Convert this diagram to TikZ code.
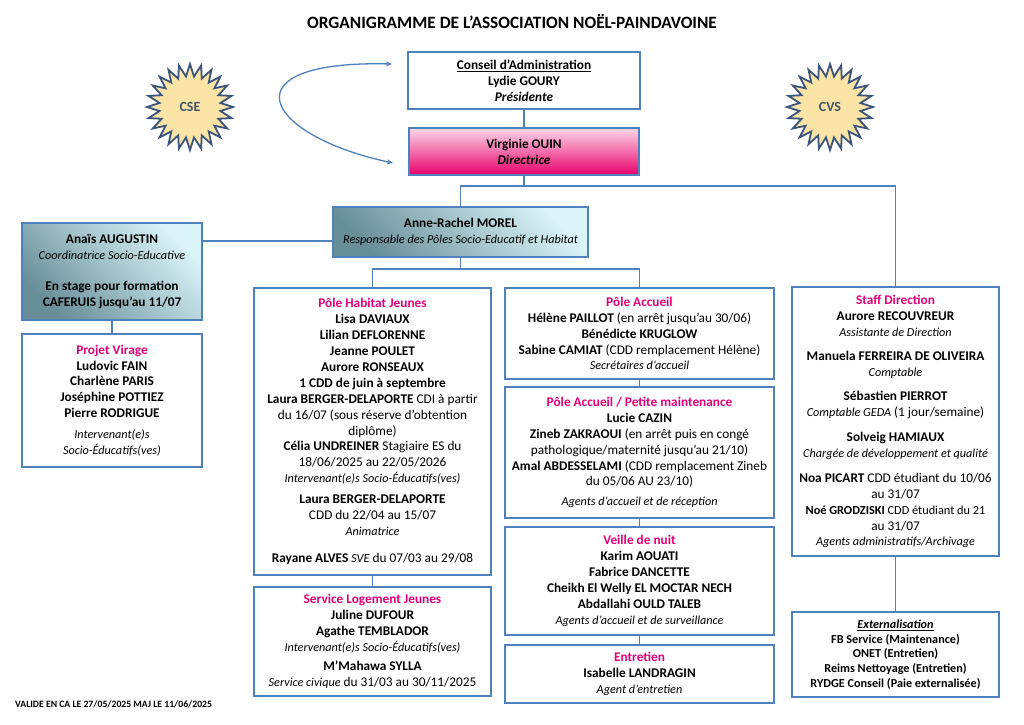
\documentclass[tikz,border=0pt]{standalone}
\usepackage{fontspec}
\setmainfont{Carlito}
\usepackage{tikz}
\usetikzlibrary{shapes.geometric}
\usetikzlibrary{arrows.meta}
\usepackage{xcolor}
\definecolor{ColBlue}{RGB}{79,129,189}
\definecolor{ColPink}{RGB}{226,0,122}
\definecolor{ColPinkL}{RGB}{252,216,234}
\definecolor{ColPinkD}{RGB}{233,0,106}
\definecolor{ColTealL}{RGB}{218,244,249}
\definecolor{ColTealD}{RGB}{104,142,152}
\definecolor{ColGold}{RGB}{252,228,166}
\definecolor{ColSlate}{RGB}{59,86,122}
\definecolor{ColSlateT}{RGB}{68,84,106}
\newcommand{\Plain}[1]{{\mdseries #1}}
\newcommand{\Role}[1]{{\mdseries\itshape\fontsize{12.2}{15.9}\selectfont #1}}
\newcommand{\Pole}[1]{\textcolor{ColPink}{#1}}
\tikzstyle{BoxOrg}=[rectangle,draw=ColBlue,line width=1.6pt,fill=white,inner sep=2pt,align=center,
font=\fontsize{13.3}{15.9}\selectfont\bfseries]
\tikzstyle{BoxTeal}=[BoxOrg,bottom color=ColTealD,top color=ColTealL,shading angle=-45]
\tikzstyle{BoxPink}=[BoxOrg,top color=ColPinkL,bottom color=ColPinkD]
\tikzstyle{EdgeOrg}=[ColBlue,line width=1.5pt]
\tikzstyle{ArcOrg}=[ColBlue,line width=1.3pt,{Stealth[length=6pt,width=5pt]}-{Stealth[length=6pt,width=5pt]}]
\tikzstyle{StarOrg}=[star,star points=24,star point ratio=1.4,minimum size=86pt,inner sep=0pt,
draw=ColSlate,line width=1.8pt,fill=ColGold,text=ColSlateT,font=\fontsize{14}{16}\selectfont\bfseries]

\begin{document}
\begin{tikzpicture}[x=1pt,y=-1pt]
        \useasboundingbox[fill=white](0,0)rectangle(1024,724);
        \node[font=\fontsize{17.3}{20}\selectfont\bfseries](t)at(512,22){ORGANIGRAMME DE L’ASSOCIATION NOËL-PAINDAVOINE};
        \node[StarOrg](cse)at(190,107){CSE};
        \node[StarOrg](cvs)at(830,107){CVS};
        \node[BoxOrg,minimum width=232pt,minimum height=57pt](ca)at(524,80.5){\underline{Conseil d’Administration}\\Lydie GOURY\\\textit{Présidente}};
        \node[BoxPink,minimum width=230pt,minimum height=47pt](dir)at(524,151.5){Virginie OUIN\\\textit{Directrice}};
        \node[BoxTeal,minimum width=255pt,minimum height=50pt](ar)at(460.5,232){Anne-Rachel MOREL\\\Role{Responsable des Pôles Socio-Educatif et Habitat}};
        \node[BoxTeal,minimum width=180pt,minimum height=97pt](ana)at(112,271.5){Anaïs AUGUSTIN\\\Role{Coordinatrice Socio-Educative}\\[15pt]
            En stage pour formation\\CAFERUIS jusqu’au 11/07};
        \node[BoxOrg,minimum width=180pt,minimum height=133pt](vir)at(112,400.5){\Pole{Projet Virage}\\Ludovic FAIN\\Charlène PARIS\\Joséphine POTTIEZ\\Pierre RODRIGUE\\[5pt]
            \Role{Intervenant(e)s}\\\Role{Socio-Éducatifs(ves)}};
        \node[BoxOrg,minimum width=237pt,minimum height=287pt](hab)at(372.5,431.5){\Pole{Pôle Habitat Jeunes}\\Lisa DAVIAUX\\Lilian DEFLORENNE\\Jeanne POULET\\Aurore RONSEAUX\\
            1 CDD de juin à septembre\\Laura BERGER-DELAPORTE \Plain{CDI à partir}\\\Plain{du 16/07 (sous réserve d’obtention}\\\Plain{diplôme)}\\
            Célia UNDREINER \Plain{Stagiaire ES du}\\\Plain{18/06/2025 au 22/05/2026}\\\Role{Intervenant(e)s Socio-Éducatifs(ves)}\\[5pt]
            Laura BERGER-DELAPORTE\\\Plain{CDD du 22/04 au 15/07}\\\Role{Animatrice}\\[11pt]
            Rayane ALVES \Role{SVE} \Plain{du 07/03 au 29/08}};
        \node[BoxOrg,minimum width=237pt,minimum height=109pt](slj)at(372.5,641.5){\Pole{Service Logement Jeunes}\\Juline DUFOUR\\Agathe TEMBLADOR\\
            \Role{Intervenant(e)s Socio-Éducatifs(ves)}\\[3pt]M’Mahawa SYLLA\\\Role{Service civique} \Plain{du 31/03 au 30/11/2025}};
        \node[BoxOrg,minimum width=269pt,minimum height=91pt](acc)at(639.5,333.5){\Pole{Pôle Accueil}\\Hélène PAILLOT \Plain{(en arrêt jusqu’au 30/06)}\\Bénédicte KRUGLOW\\
            Sabine CAMIAT \Plain{(CDD remplacement Hélène)}\\\Role{Secrétaires d’accueil}};
        \node[BoxOrg,minimum width=269pt,minimum height=131pt](pam)at(639.5,452.5){\Pole{Pôle Accueil / Petite maintenance}\\Lucie CAZIN\\
            Zineb ZAKRAOUI \Plain{(en arrêt puis en congé}\\\Plain{pathologique/maternité jusqu’au 21/10)}\\
            Amal ABDESSELAMI \Plain{(CDD remplacement Zineb}\\\Plain{du 05/06 AU 23/10)}\\[4pt]\Role{Agents d’accueil et de réception}};
        \node[BoxOrg,minimum width=269pt,minimum height=108pt](vdn)at(639.5,581){\Pole{Veille de nuit}\\Karim AOUATI\\Fabrice DANCETTE\\Cheikh El Welly EL MOCTAR NECH\\
            Abdallahi OULD TALEB\\\Role{Agents d’accueil et de surveillance}};
        \node[BoxOrg,minimum width=269pt,minimum height=58pt](ent)at(639.5,674){\Pole{Entretien}\\Isabelle LANDRAGIN\\\Role{Agent d’entretien}};
        \node[BoxOrg,minimum width=207pt,minimum height=269pt](staff)at(895.5,421.5){\Pole{Staff Direction}\\Aurore RECOUVREUR\\\Role{Assistante de Direction}\\[9pt]
            Manuela FERREIRA DE OLIVEIRA\\\Role{Comptable}\\[8pt]Sébastien PIERROT\\\Role{Comptable GEDA} \Plain{(1 jour/semaine)}\\[9pt]
            Solveig HAMIAUX\\\Role{Chargée de développement et qualité}\\[9pt]
            Noa PICART \Plain{CDD étudiant du 10/06}\\\Plain{au 31/07}\\
            {\fontsize{12.3}{14}\selectfont Noé GRODZISKI \Plain{CDD étudiant du 21}}\\\Plain{au 31/07}\\\Role{Agents administratifs/Archivage}};
        \node[BoxOrg,minimum width=207pt,minimum height=85pt,font=\fontsize{12.2}{14.7}\selectfont\bfseries](ext)at(895.5,654.5){\underline{\textit{Externalisation}}\\
            FB Service (Maintenance)\\ONET (Entretien)\\Reims Nettoyage (Entretien)\\RYDGE Conseil (Paie externalisée)};
        \node[anchor=west,inner sep=0pt,font=\fontsize{9.7}{11}\selectfont\bfseries](val)at(15,704){VALIDE EN CA LE 27/05/2025 MAJ LE 11/06/2025};
        \coordinate(ArcA)at(392,64);
        \coordinate(ArcB)at(393,163);
        \draw[ArcOrg](ArcA)..controls(225,60)and(262,135)..(ArcB);
        \draw[EdgeOrg](ca)--(dir);
        \draw[EdgeOrg](dir.south)--++(0,10)coordinate(j1);
        \draw[EdgeOrg](j1)-|(ar.north);
        \draw[EdgeOrg](j1)-|(staff.north);
        \draw[EdgeOrg]([yshift=-9pt]ar.west)coordinate(ja)--(ja-|ana.east);
        \draw[EdgeOrg](ana)--(vir);
        \draw[EdgeOrg](ar.south)--++(0,11)coordinate(j2);
        \draw[EdgeOrg](j2)-|(hab.north);
        \draw[EdgeOrg](j2)-|(acc.north);
        \draw[EdgeOrg](hab)--(slj);
        \draw[EdgeOrg](acc)--(pam);
        \draw[EdgeOrg](pam)--(vdn);
        \draw[EdgeOrg](vdn)--(ent);
        \draw[EdgeOrg](staff)--(ext);
    \end{tikzpicture}
\end{document}
